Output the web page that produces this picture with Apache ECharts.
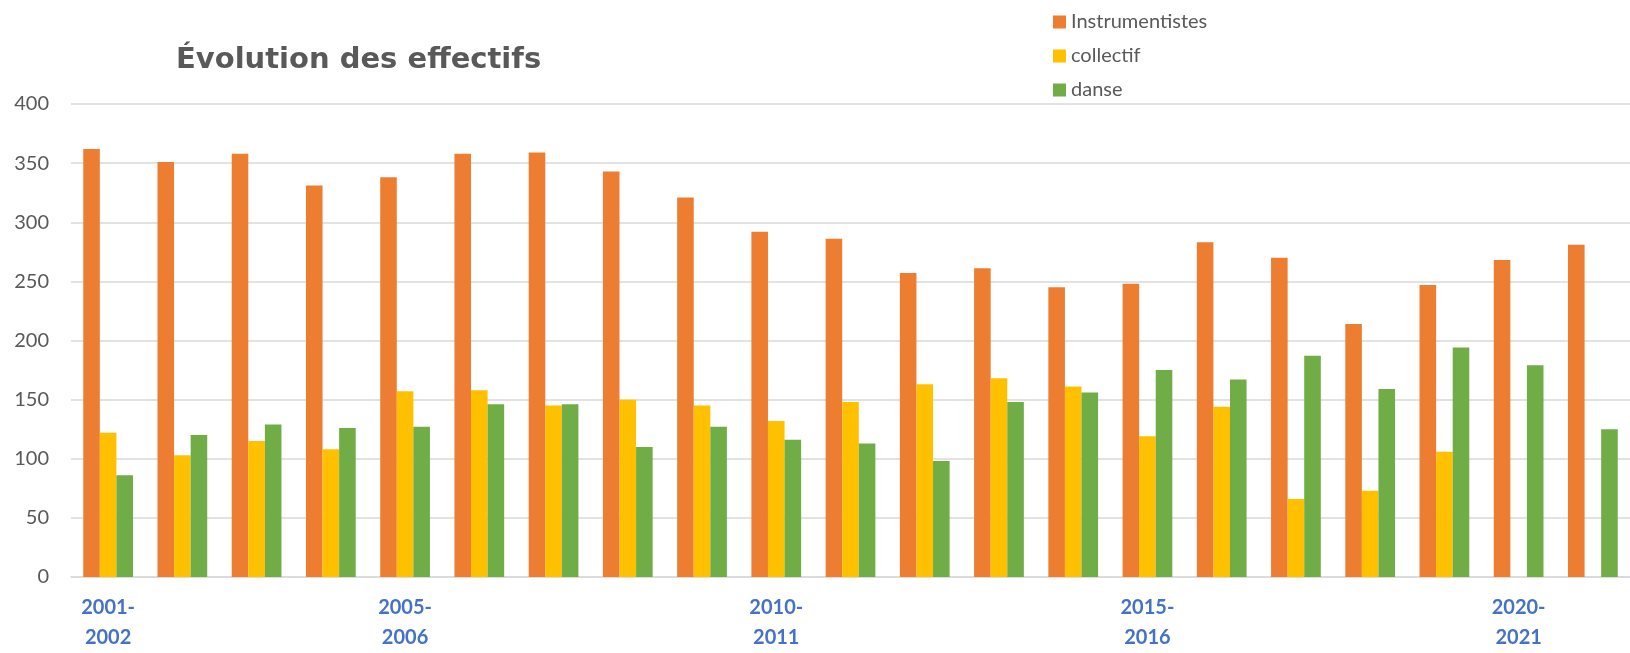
<!DOCTYPE html>
<html>
<head>
<meta charset="utf-8">
<title>Évolution des effectifs</title>
<script src="https://cdn.jsdelivr.net/npm/echarts@6/dist/echarts.min.js"></script>
<style>
    html, body { margin: 0; padding: 0; background: #fff; }
    #echart_show { width: 1630px; height: 653px; }
</style>
</head>
<body>
<div id="echart_show"></div>
<script>
// annees scolaires
var annees = ['2001-2002', '2002-2003', '2003-2004', '2004-2005', '2005-2006', '2006-2007', '2007-2008',
    '2008-2009', '2009-2010', '2010-2011', '2011-2012', '2012-2013', '2013-2014', '2014-2015',
    '2015-2016', '2016-2017', '2017-2018', '2018-2019', '2019-2020', '2020-2021', '2021-2022'];

var instrumentistes = [362, 351, 358, 331, 338, 358, 359, 343, 321, 292, 286, 257, 261, 245, 248, 283, 270, 214, 247, 268, 281];
var collectif = [122, 103, 115, 108, 157, 158, 145, 150, 145, 132, 148, 163, 168, 161, 119, 144, 66, 73, 106, null, null];
var danse = [86, 120, 129, 126, 127, 146, 146, 110, 127, 116, 113, 98, 148, 156, 175, 167, 187, 159, 194, 179, 125];

var yTicks = [0, 400, 50]; // min, max, pas

var init_echarts = function () {
    var my_chart = echarts.init(document.getElementById('echart_show'));

    var mkSerie = function (name, data, color) {
        return {
            name: name,
            type: 'bar',
            data: data,
            barGap: '0%',
            barCategoryGap: '33%',
            itemStyle: {color: color}
        };
    };

    var option = {
        animation: false,
        textStyle: {fontFamily: 'Lato'},
        title: {
            text: 'Évolution des effectifs',
            left: 171,
            top: 41,
            textStyle: {
                fontFamily: 'DejaVu Sans',
                fontSize: 29,
                fontWeight: 'bold',
                color: '#595959'
            }
        },
        legend: {
            orient: 'vertical',
            left: 1048,
            top: 7,
            itemWidth: 13,
            itemHeight: 13,
            itemGap: 14,
            icon: 'rect',
            textStyle: {fontSize: 20, color: '#595959', fontFamily: 'Lato'},
            data: ['Instrumentistes', 'collectif', 'danse']
        },
        grid: {
            left: 71,
            right: 0,
            top: 104,
            bottom: 75
        },
        xAxis: {
            type: 'category',
            data: annees,
            axisTick: {show: false},
            axisLine: {lineStyle: {color: '#D9D9D9', width: 1.5}},
            axisLabel: {
                interval: function (index) {
                    return index === 0 || (index + 1) % 5 === 0;
                },
                formatter: function (v) {
                    return v.replace('-', '-\n');
                },
                color: '#4472C4',
                fontWeight: 'bold',
                fontSize: 20,
                lineHeight: 30,
                margin: 16
            }
        },
        yAxis: {
            type: 'value',
            min: yTicks[0],
            max: yTicks[1],
            interval: yTicks[2],
            axisLine: {show: false},
            axisTick: {show: false},
            splitLine: {lineStyle: {color: '#D9D9D9', width: 1.5}},
            axisLabel: {fontSize: 20, color: '#595959', margin: 22}
        },
        series: [
            mkSerie('Instrumentistes', instrumentistes, '#ED7D31'),
            mkSerie('collectif', collectif, '#FFC000'),
            mkSerie('danse', danse, '#70AD47')
        ]
    };

    my_chart.setOption(option);
};

init_echarts();
</script>
</body>
</html>
